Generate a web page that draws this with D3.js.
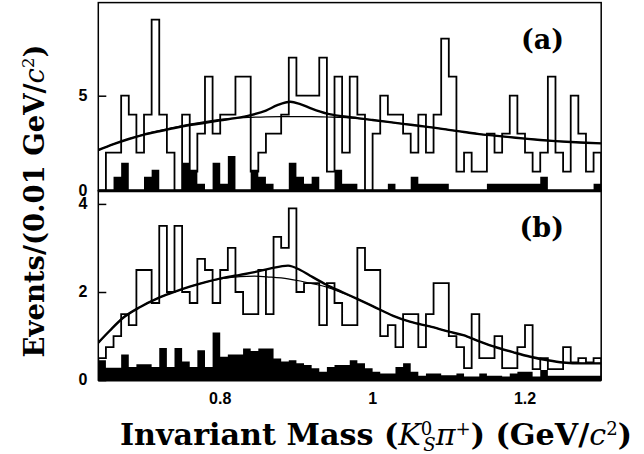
<!DOCTYPE html>
<html>
<head>
<meta charset="utf-8">
<script src="https://cdn.jsdelivr.net/npm/d3@7"></script>
<style>
  body { margin: 0; background: #fff; }
  svg { display: block; }
</style>
</head>
<body>
<svg width="644" height="454"></svg>
<script>
/* global d3 */

// bins of 0.01 GeV/c^2 starting at 0.64
const binStarts = d3.range(66).map(i => +(0.64 + i * 0.01).toFixed(2))
const binWidth = 0.01

// panel (a)
const countsA = [0, 2, 2, 5, 4, 2, 4, 9, 4, 2, 0, 4, 1, 3, 6, 3, 4, 4, 6, 6,
  1, 2, 3, 3, 4, 7, 5, 5, 5, 7, 1, 6, 2, 6, 4, 0, 3, 5, 4, 4,
  3, 2, 4, 2, 4, 8, 6, 1, 2, 1, 1, 3, 2, 3, 5, 3, 2, 1, 2, 6,
  2, 1, 5, 3, 1, 2]
const sidebandA = [0, 0, 0.73, 1.47, 0, 0, 0.73, 1.1, 0, 0, 0, 1.47, 1.1, 0.37, 0, 1.47, 0.37, 1.83, 0, 0,
  1.1, 0.73, 0.37, 0, 0, 1.47, 0.73, 0.37, 0.73, 0, 0, 1.1, 0.37, 0.37, 0, 0, 0, 0, 0.37, 0,
  0, 0.73, 0.37, 0.37, 0.37, 0.37, 0, 0, 0, 0, 0, 0.37, 0.37, 0.37, 0.37, 0.37, 0.37, 0.37, 0.73, 0,
  0, 0, 0, 0, 0, 0.37]
const fitTotalA = [[0.64, 2.14], [0.66, 2.45], [0.68, 2.72], [0.70, 2.95], [0.72, 3.13], [0.74, 3.3],
  [0.76, 3.45], [0.78, 3.57], [0.80, 3.7], [0.82, 3.82], [0.84, 3.98], [0.86, 4.22], [0.875, 4.5],
  [0.892, 4.68], [0.905, 4.56], [0.92, 4.32], [0.94, 4.06], [0.96, 3.92], [0.98, 3.82], [1.0, 3.72],
  [1.02, 3.62], [1.04, 3.52], [1.06, 3.42], [1.08, 3.32], [1.10, 3.2], [1.12, 3.09], [1.14, 2.98],
  [1.16, 2.9], [1.18, 2.82], [1.20, 2.74], [1.22, 2.67], [1.24, 2.61], [1.26, 2.56], [1.28, 2.52], [1.30, 2.49]]
const fitBkgA = [[0.64, 2.14], [0.66, 2.45], [0.68, 2.72], [0.70, 2.97], [0.72, 3.16], [0.74, 3.34],
  [0.76, 3.5], [0.78, 3.64], [0.80, 3.75], [0.82, 3.82], [0.84, 3.86], [0.86, 3.89], [0.88, 3.9],
  [0.90, 3.9], [0.92, 3.9], [0.94, 3.88], [0.96, 3.86], [0.98, 3.81], [1.0, 3.72],
  [1.02, 3.62], [1.04, 3.52], [1.06, 3.42], [1.08, 3.32], [1.10, 3.2], [1.12, 3.09], [1.14, 2.98],
  [1.16, 2.9], [1.18, 2.82], [1.20, 2.74], [1.22, 2.67], [1.24, 2.61], [1.26, 2.56], [1.28, 2.52], [1.30, 2.49]]

// panel (b)
const countsB = [0.5, 0.75, 1, 1.5, 1.25, 2.5, 2.5, 1.75, 3.5, 2, 3.5, 2, 1.75, 2.75, 2.5, 1.75, 2.5, 3, 2, 1.5,
  1.5, 2.5, 1.5, 3.25, 3, 3.9, 2, 2.2, 2.2, 1.25, 2.2, 1.75, 1.25, 1.25, 3, 2.5, 2.5, 1, 1.25, 0.75,
  1.5, 1.5, 0.75, 1.5, 2.2, 2.2, 1, 0.75, 0.27, 1.5, 0.5, 0.5, 1, 0.27, 0.27, 0.75, 1.25, 0.25, 0.5, 0.25,
  0.25, 0.75, 0.4, 0.5, 0.4, 0.5]
const sidebandB = [0.45, 0.28, 0.28, 0.58, 0.3, 0.36, 0.36, 0.3, 0.73, 0.3, 0.73, 0.42, 0.3, 0.68, 0.3, 1.08, 0.53, 0.58, 0.58, 0.72,
  0.66, 0.72, 0.72, 0.49, 0.42, 0.45, 0.38, 0.34, 0.27, 0.19, 0.3, 0.34, 0.34, 0.45, 0.38, 0.27, 0.19, 0.15, 0.15, 0.3,
  0.38, 0.19, 0.1, 0.15, 0.15, 0.11, 0.11, 0.15, 0.08, 0.08, 0.15, 0.1, 0.1, 0.08, 0.15, 0.19, 0.19, 0.08, 0.23, 0.1,
  0.1, 0.1, 0.1, 0.1, 0.1, 0.1]
const fitTotalB = [[0.64, 0.85], [0.655, 1.12], [0.673, 1.42], [0.695, 1.66], [0.717, 1.85], [0.738, 1.99],
  [0.76, 2.12], [0.782, 2.23], [0.804, 2.32], [0.826, 2.39], [0.845, 2.45], [0.865, 2.53], [0.889, 2.6],
  [0.905, 2.5], [0.918, 2.37], [0.94, 2.16], [0.96, 2.0], [0.979, 1.85], [1.0, 1.68], [1.027, 1.46],
  [1.05, 1.32], [1.075, 1.22], [1.1, 1.1], [1.119, 1.02], [1.14, 0.88], [1.163, 0.74], [1.185, 0.63],
  [1.207, 0.53], [1.23, 0.45], [1.25, 0.4], [1.275, 0.38], [1.30, 0.38]]
const fitBkgB = [[0.64, 0.85], [0.655, 1.12], [0.673, 1.42], [0.695, 1.66], [0.717, 1.85], [0.738, 1.99],
  [0.76, 2.12], [0.782, 2.23], [0.804, 2.31], [0.826, 2.35], [0.845, 2.36], [0.865, 2.34], [0.889, 2.3],
  [0.905, 2.25], [0.918, 2.2], [0.94, 2.11], [0.96, 1.98], [0.979, 1.85], [1.0, 1.68], [1.027, 1.46],
  [1.05, 1.32], [1.075, 1.22], [1.1, 1.1], [1.119, 1.02], [1.14, 0.88], [1.163, 0.74], [1.185, 0.63],
  [1.207, 0.53], [1.23, 0.45], [1.25, 0.4], [1.275, 0.38], [1.30, 0.38]]

const xTicks = [0.8, 1, 1.2]
const yTicksA = [0, 5]
const yTicksB = [0, 2, 4]

const svg = d3.select('svg')

const frame = { left: 98.3, right: 601.2, top: 2.6, mid: 190.7, bottom: 380.1 }

const xScale = d3.scaleLinear()
  .domain([0.64, 1.30])
  .range([frame.left, frame.right])

const yA = d3.scaleLinear().domain([0, 9.9]).range([frame.mid, frame.top])
const yB = d3.scaleLinear().domain([0, 4.3]).range([frame.bottom, frame.mid])

const sansFont = '"Liberation Sans", Arial, sans-serif'
const serifFont = '"DejaVu Serif", serif'

const drawPanel = (id, yScale, counts, sideband, fitTotal, fitBkg, yTicks, label) => {
  const [y0, y1] = yScale.range()
  const g = svg.append('g')

  g.append('clipPath').attr('id', `clip-${id}`)
    .append('rect')
    .attr('x', frame.left).attr('y', y1)
    .attr('width', frame.right - frame.left).attr('height', y0 - y1)

  const inner = g.append('g').attr('clip-path', `url(#clip-${id})`)

  const bins = binStarts.map((b, i) => ({ x: b, v: counts[i], s: sideband[i] }))
  const last = { x: binStarts[binStarts.length - 1] + binWidth }

  const sideArea = d3.area()
    .curve(d3.curveStepAfter)
    .x(d => xScale(d.x))
    .y0(yScale(0))
    .y1(d => yScale(d.s))

  inner.append('path')
    .datum([...bins, { ...last, s: bins[bins.length - 1].s }])
    .attr('fill', '#000')
    .attr('d', sideArea)

  const stepLine = d3.line()
    .curve(d3.curveStepAfter)
    .x(d => xScale(d.x))
    .y(d => yScale(d.v))

  const outline = [{ x: binStarts[0], v: 0 }, ...bins,
    { ...last, v: bins[bins.length - 1].v }, { ...last, v: 0 }]

  inner.append('path')
    .datum(outline)
    .attr('fill', 'none')
    .attr('stroke', '#000')
    .attr('stroke-width', 1.8)
    .attr('d', stepLine)

  const fitLine = d3.line()
    .curve(d3.curveMonotoneX)
    .x(d => xScale(d[0]))
    .y(d => yScale(d[1]))

  inner.append('path')
    .datum(fitBkg)
    .attr('fill', 'none')
    .attr('stroke', '#000')
    .attr('stroke-width', 1.2)
    .attr('d', fitLine)

  inner.append('path')
    .datum(fitTotal)
    .attr('fill', 'none')
    .attr('stroke', '#000')
    .attr('stroke-width', 2.4)
    .attr('d', fitLine)

  // frame
  g.append('rect')
    .attr('x', frame.left).attr('y', y1)
    .attr('width', frame.right - frame.left).attr('height', y0 - y1)
    .attr('fill', 'none')
    .attr('stroke', '#000')
    .attr('stroke-width', 1.5)

  g.append('line')
    .attr('x1', frame.left).attr('x2', frame.right)
    .attr('y1', y0).attr('y2', y0)
    .attr('stroke', '#000')
    .attr('stroke-width', 3)

  const yAxis = d3.axisLeft(yScale)
    .tickValues(yTicks)
    .tickSizeInner(-8)
    .tickSizeOuter(0)
    .tickPadding(11)
    .tickFormat(d3.format('d'))

  const ax = g.append('g')
    .attr('transform', `translate(${frame.left},0)`)
    .call(yAxis)
  ax.select('.domain').remove()
  ax.selectAll('line').attr('stroke', '#000').attr('stroke-width', 1.5)
  ax.selectAll('text')
    .attr('fill', '#000')
    .style('font-family', sansFont)
    .style('font-weight', 'bold')
    .style('font-size', '16px')
    .attr('dy', '0.3em')

  g.append('text')
    .attr('x', 564)
    .attr('y', y1 + 46)
    .attr('text-anchor', 'end')
    .style('font-family', serifFont)
    .style('font-weight', 'bold')
    .style('font-size', '27px')
    .text(label)
}

drawPanel('a', yA, countsA, sidebandA, fitTotalA, fitBkgA, yTicksA, '(a)')
drawPanel('b', yB, countsB, sidebandB, fitTotalB, fitBkgB, yTicksB, '(b)')

// x tick labels
svg.append('g')
  .selectAll('text')
  .data(xTicks)
  .join('text')
  .attr('x', d => xScale(d))
  .attr('y', 404)
  .attr('text-anchor', 'middle')
  .style('font-family', sansFont)
  .style('font-weight', 'bold')
  .style('font-size', '16px')
  .text(d => d3.format('~g')(d))

// fit a text element to a given width by its font size
const fitWidth = (sel, width) => {
  const w = sel.node().getBBox().width
  const fs = parseFloat(sel.style('font-size'))
  sel.style('font-size', `${fs * width / w}px`)
}

const xTitle = svg.append('text')
  .attr('x', 376)
  .attr('y', 445)
  .attr('text-anchor', 'middle')
  .style('font-family', serifFont)
  .style('font-weight', 'bold')
  .style('font-size', '24px')
xTitle.append('tspan').text('Invariant Mass (')
xTitle.append('tspan').style('font-style', 'italic').style('font-weight', 'normal').text('K')
xTitle.append('tspan').attr('dy', -10).style('font-size', '0.6em').style('font-weight', 'normal').text('0')
xTitle.append('tspan').attr('dx', -9).attr('dy', 16).style('font-size', '0.6em').style('font-style', 'italic').style('font-weight', 'normal').text('S')
xTitle.append('tspan').attr('dy', -6).style('font-style', 'italic').style('font-weight', 'normal').text('π')
xTitle.append('tspan').attr('dy', -10).style('font-size', '0.6em').style('font-weight', 'normal').text('+')
xTitle.append('tspan').attr('dy', 10).text(') (GeV/')
xTitle.append('tspan').style('font-style', 'italic').style('font-weight', 'normal').text('c')
xTitle.append('tspan').attr('dy', -10).style('font-size', '0.6em').style('font-weight', 'normal').text('2')
xTitle.append('tspan').attr('dy', 10).text(')')
fitWidth(xTitle, 510)

const yTitle = svg.append('text')
  .attr('transform', 'translate(44,201) rotate(-90)')
  .attr('text-anchor', 'middle')
  .style('font-family', serifFont)
  .style('font-weight', 'bold')
  .style('font-size', '24px')
yTitle.append('tspan').text('Events/(0.01 GeV/')
yTitle.append('tspan').style('font-style', 'italic').style('font-weight', 'normal').text('c')
yTitle.append('tspan').attr('dy', -10).style('font-size', '0.6em').style('font-weight', 'normal').text('2')
yTitle.append('tspan').attr('dy', 10).text(')')
fitWidth(yTitle, 313)
</script>
</body>
</html>
